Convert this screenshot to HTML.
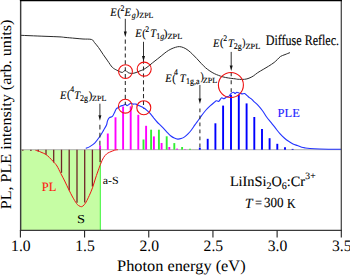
<!DOCTYPE html><html><head><meta charset="utf-8"><style>
html,body{margin:0;padding:0;background:#fff;width:350px;height:275px;overflow:hidden}
svg{display:block}
text{font-family:"Liberation Serif",serif;fill:#000;text-rendering:geometricPrecision}
.b{stroke:#000;stroke-width:0.12px;paint-order:stroke}
</style></head><body>
<svg width="350" height="275" viewBox="0 0 350 275">
<rect x="20.5" y="149.7" width="80.10" height="80.70" fill="#c6fda4"/>
<line x1="100.3" y1="149.7" x2="100.3" y2="230.4" stroke="#3cf53c" stroke-width="1"/>
<line x1="20.5" y1="149.7" x2="341.3" y2="149.7" stroke="#b0b0b0" stroke-width="1"/>
<line x1="22.8" y1="149.7" x2="22.8" y2="150.7" stroke="#6e2626" stroke-width="1.3"/>
<line x1="30.9" y1="149.7" x2="30.9" y2="151.1" stroke="#6e2626" stroke-width="1.3"/>
<line x1="38.3" y1="149.7" x2="38.3" y2="151.6" stroke="#6e2626" stroke-width="1.3"/>
<line x1="46.0" y1="149.7" x2="46.0" y2="154.7" stroke="#6e2626" stroke-width="1.3"/>
<line x1="53.7" y1="149.7" x2="53.7" y2="162.4" stroke="#6e2626" stroke-width="1.3"/>
<line x1="61.5" y1="149.7" x2="61.5" y2="172.8" stroke="#6e2626" stroke-width="1.3"/>
<line x1="69.2" y1="149.7" x2="69.2" y2="190.2" stroke="#6e2626" stroke-width="1.3"/>
<line x1="77.0" y1="149.7" x2="77.0" y2="202.7" stroke="#6e2626" stroke-width="1.3"/>
<line x1="84.7" y1="149.7" x2="84.7" y2="202.5" stroke="#6e2626" stroke-width="1.3"/>
<line x1="92.4" y1="149.7" x2="92.4" y2="186.5" stroke="#6e2626" stroke-width="1.3"/>
<line x1="100.1" y1="149.7" x2="100.1" y2="162.0" stroke="#6e2626" stroke-width="1.3"/>
<line x1="100.1" y1="149.7" x2="100.1" y2="145.5" stroke="#ff00ff" stroke-width="1.9"/>
<line x1="107.8" y1="149.7" x2="107.8" y2="133.5" stroke="#ff00ff" stroke-width="1.9"/>
<line x1="115.5" y1="149.7" x2="115.5" y2="117.3" stroke="#ff00ff" stroke-width="1.9"/>
<line x1="123.1" y1="149.7" x2="123.1" y2="106.5" stroke="#ff00ff" stroke-width="1.9"/>
<line x1="130.7" y1="149.7" x2="130.7" y2="106.3" stroke="#ff00ff" stroke-width="1.9"/>
<line x1="138.3" y1="149.7" x2="138.3" y2="114.8" stroke="#ff00ff" stroke-width="1.9"/>
<line x1="146.1" y1="149.7" x2="146.1" y2="125.8" stroke="#ff00ff" stroke-width="1.9"/>
<line x1="153.9" y1="149.7" x2="153.9" y2="136.4" stroke="#ff00ff" stroke-width="1.9"/>
<line x1="161.6" y1="149.7" x2="161.6" y2="143" stroke="#ff00ff" stroke-width="1.9"/>
<line x1="169.3" y1="149.7" x2="169.3" y2="147" stroke="#ff00ff" stroke-width="1.9"/>
<line x1="177.1" y1="149.7" x2="177.1" y2="148.6" stroke="#ff00ff" stroke-width="1.9"/>
<line x1="184.9" y1="149.7" x2="184.9" y2="149.2" stroke="#ff00ff" stroke-width="1.9"/>
<line x1="143.5" y1="149.7" x2="143.5" y2="139.5" stroke="#33ee33" stroke-width="1.9"/>
<line x1="151.1" y1="149.7" x2="151.1" y2="129.7" stroke="#33ee33" stroke-width="1.9"/>
<line x1="158.9" y1="149.7" x2="158.9" y2="129.7" stroke="#33ee33" stroke-width="1.9"/>
<line x1="166.7" y1="149.7" x2="166.7" y2="136.3" stroke="#33ee33" stroke-width="1.9"/>
<line x1="174.3" y1="149.7" x2="174.3" y2="143.1" stroke="#33ee33" stroke-width="1.9"/>
<line x1="182.1" y1="149.7" x2="182.1" y2="147.0" stroke="#33ee33" stroke-width="1.9"/>
<line x1="190" y1="149.7" x2="190" y2="148.8" stroke="#33ee33" stroke-width="1.9"/>
<line x1="199.8" y1="149.7" x2="199.8" y2="147.6" stroke="#0000ff" stroke-width="1.9"/>
<line x1="207.7" y1="149.7" x2="207.7" y2="138.8" stroke="#0000ff" stroke-width="1.9"/>
<line x1="215.4" y1="149.7" x2="215.4" y2="123.3" stroke="#0000ff" stroke-width="1.9"/>
<line x1="223.1" y1="149.7" x2="223.1" y2="105.6" stroke="#0000ff" stroke-width="1.9"/>
<line x1="231.0" y1="149.7" x2="231.0" y2="94.7" stroke="#0000ff" stroke-width="1.9"/>
<line x1="238.8" y1="149.7" x2="238.8" y2="94.7" stroke="#0000ff" stroke-width="1.9"/>
<line x1="246.6" y1="149.7" x2="246.6" y2="103.4" stroke="#0000ff" stroke-width="1.9"/>
<line x1="254.3" y1="149.7" x2="254.3" y2="117" stroke="#0000ff" stroke-width="1.9"/>
<line x1="262" y1="149.7" x2="262" y2="129" stroke="#0000ff" stroke-width="1.9"/>
<line x1="269.6" y1="149.7" x2="269.6" y2="138.2" stroke="#0000ff" stroke-width="1.9"/>
<line x1="277.3" y1="149.7" x2="277.3" y2="143.8" stroke="#0000ff" stroke-width="1.9"/>
<line x1="285" y1="149.7" x2="285" y2="147.3" stroke="#0000ff" stroke-width="1.9"/>
<line x1="292.6" y1="149.7" x2="292.6" y2="148.9" stroke="#0000ff" stroke-width="1.9"/>
<path d="M20.50,35.30 C22.08,35.37 25.92,35.53 30.00,35.70 C34.08,35.87 40.00,36.10 45.00,36.30 C50.00,36.50 56.67,36.72 60.00,36.90 C63.33,37.08 62.50,37.17 65.00,37.40 C67.50,37.63 72.00,38.03 75.00,38.30 C78.00,38.57 80.23,38.80 83.00,39.00 C85.77,39.20 89.68,38.90 91.60,39.50 C93.52,40.10 93.33,41.25 94.50,42.60 C95.67,43.95 97.15,45.62 98.60,47.60 C100.05,49.58 101.68,52.28 103.20,54.50 C104.72,56.72 106.18,58.77 107.70,60.90 C109.22,63.03 110.78,65.75 112.30,67.30 C113.82,68.85 115.58,69.48 116.80,70.20 C118.02,70.92 118.65,71.23 119.60,71.60 C120.55,71.97 121.55,72.62 122.50,72.40 C123.45,72.18 124.37,70.27 125.30,70.30 C126.23,70.33 127.08,72.08 128.10,72.60 C129.12,73.12 130.25,73.35 131.40,73.40 C132.55,73.45 133.57,73.32 135.00,72.90 C136.43,72.48 138.57,71.47 140.00,70.90 C141.43,70.33 142.23,70.25 143.60,69.50 C144.97,68.75 146.68,67.53 148.20,66.40 C149.72,65.27 151.18,63.92 152.70,62.70 C154.22,61.48 155.78,60.30 157.30,59.10 C158.82,57.90 160.28,56.72 161.80,55.50 C163.32,54.28 164.88,52.87 166.40,51.80 C167.92,50.73 169.38,49.85 170.90,49.10 C172.42,48.35 174.08,47.72 175.50,47.30 C176.92,46.88 178.03,46.53 179.40,46.60 C180.77,46.67 182.25,47.08 183.70,47.70 C185.15,48.32 186.63,49.22 188.10,50.30 C189.57,51.38 191.05,52.82 192.50,54.20 C193.95,55.58 195.35,57.07 196.80,58.60 C198.25,60.13 199.75,61.88 201.20,63.40 C202.65,64.92 204.05,66.43 205.50,67.70 C206.95,68.97 208.43,70.02 209.90,71.00 C211.37,71.98 212.85,72.87 214.30,73.60 C215.75,74.33 217.15,74.85 218.60,75.40 C220.05,75.95 221.35,76.47 223.00,76.90 C224.65,77.33 226.50,77.68 228.50,78.00 C230.50,78.32 233.40,78.58 235.00,78.80 C236.60,79.02 236.50,79.22 238.10,79.30 C239.70,79.38 242.78,79.48 244.60,79.30 C246.42,79.12 247.55,78.75 249.00,78.20 C250.45,77.65 251.85,76.92 253.30,76.00 C254.75,75.08 256.05,73.80 257.70,72.70 C259.35,71.60 261.38,70.48 263.20,69.40 C265.02,68.32 266.78,67.35 268.60,66.20 C270.42,65.05 272.65,63.60 274.10,62.50 C275.55,61.40 276.22,60.62 277.30,59.60 C278.38,58.58 279.32,57.23 280.60,56.40 C281.88,55.57 283.43,55.23 285.00,54.60 C286.57,53.97 289.17,52.93 290.00,52.60" fill="none" stroke="#2a2a2a" stroke-width="1.0"/>
<path d="M85.80,148.40 C86.47,148.10 88.32,147.48 89.80,146.60 C91.28,145.72 93.07,144.73 94.70,143.10 C96.33,141.47 98.13,138.92 99.60,136.80 C101.07,134.68 102.35,132.37 103.50,130.40 C104.65,128.43 105.83,126.58 106.50,125.00 C107.17,123.42 107.02,122.12 107.50,120.90 C107.98,119.68 108.58,118.45 109.40,117.70 C110.22,116.95 111.57,117.23 112.40,116.40 C113.23,115.57 113.75,113.97 114.40,112.70 C115.05,111.43 115.60,109.67 116.30,108.80 C117.00,107.93 117.85,107.97 118.60,107.50 C119.35,107.03 120.12,106.35 120.80,106.00 C121.48,105.65 122.07,105.62 122.70,105.40 C123.33,105.18 124.13,104.90 124.60,104.70 C125.07,104.50 125.08,104.02 125.50,104.20 C125.92,104.38 126.57,105.73 127.10,105.80 C127.63,105.87 128.02,105.02 128.70,104.60 C129.38,104.18 130.47,103.38 131.20,103.30 C131.93,103.22 132.32,103.97 133.10,104.10 C133.88,104.23 134.95,103.85 135.90,104.10 C136.85,104.35 137.55,105.00 138.80,105.60 C140.05,106.20 142.05,106.92 143.40,107.70 C144.75,108.48 145.75,109.30 146.90,110.30 C148.05,111.30 149.17,112.42 150.30,113.70 C151.43,114.98 152.57,116.62 153.70,118.00 C154.83,119.38 155.95,120.77 157.10,122.00 C158.25,123.23 159.45,124.27 160.60,125.40 C161.75,126.53 162.87,127.60 164.00,128.80 C165.13,130.00 166.25,131.40 167.40,132.60 C168.55,133.80 169.75,135.08 170.90,136.00 C172.05,136.92 173.17,137.58 174.30,138.10 C175.43,138.62 176.57,139.02 177.70,139.10 C178.83,139.18 179.95,138.97 181.10,138.60 C182.25,138.23 183.45,137.68 184.60,136.90 C185.75,136.12 186.87,135.05 188.00,133.90 C189.13,132.75 190.25,131.50 191.40,130.00 C192.55,128.50 193.75,126.53 194.90,124.90 C196.05,123.27 197.15,121.80 198.30,120.20 C199.45,118.60 200.52,117.00 201.80,115.30 C203.08,113.60 204.57,111.62 206.00,110.00 C207.43,108.38 208.97,106.92 210.40,105.60 C211.83,104.28 213.62,102.90 214.60,102.10 C215.58,101.30 215.58,100.93 216.30,100.80 C217.02,100.67 218.05,101.78 218.90,101.30 C219.75,100.82 220.55,98.33 221.40,97.90 C222.25,97.47 223.13,98.85 224.00,98.70 C224.87,98.55 225.75,97.43 226.60,97.00 C227.45,96.57 228.38,96.67 229.10,96.10 C229.82,95.53 230.18,94.25 230.90,93.60 C231.62,92.95 232.70,92.20 233.40,92.20 C234.10,92.20 234.52,93.60 235.10,93.60 C235.68,93.60 236.18,92.27 236.90,92.20 C237.62,92.13 238.55,92.92 239.40,93.20 C240.25,93.48 241.13,93.83 242.00,93.90 C242.87,93.97 243.75,93.32 244.60,93.60 C245.45,93.88 246.30,94.93 247.10,95.60 C247.90,96.27 248.68,97.05 249.40,97.60 C250.12,98.15 250.68,98.28 251.40,98.90 C252.12,99.52 252.58,100.23 253.70,101.30 C254.82,102.37 256.63,103.73 258.10,105.30 C259.57,106.87 261.05,108.70 262.50,110.70 C263.95,112.70 265.35,115.30 266.80,117.30 C268.25,119.30 269.75,120.88 271.20,122.70 C272.65,124.52 274.05,126.38 275.50,128.20 C276.95,130.02 278.43,131.97 279.90,133.60 C281.37,135.23 282.85,136.72 284.30,138.00 C285.75,139.28 287.15,140.32 288.60,141.30 C290.05,142.28 291.53,143.18 293.00,143.90 C294.47,144.62 295.95,145.05 297.40,145.60 C298.85,146.15 300.43,146.82 301.70,147.20 C302.97,147.58 303.62,147.68 305.00,147.90 C306.38,148.12 307.50,148.32 310.00,148.50 C312.50,148.68 316.67,148.88 320.00,149.00 C323.33,149.12 326.50,149.15 330.00,149.20 C333.50,149.25 339.17,149.28 341.00,149.30" fill="none" stroke="#2233ff" stroke-width="1.1"/>
<path d="M35.50,150.40 C35.92,150.48 37.08,150.60 38.00,150.90 C38.92,151.20 39.72,151.63 41.00,152.20 C42.28,152.77 44.28,153.40 45.70,154.30 C47.12,155.20 48.22,156.37 49.50,157.60 C50.78,158.83 52.15,160.30 53.40,161.70 C54.65,163.10 55.77,164.03 57.00,166.00 C58.23,167.97 59.52,171.00 60.80,173.50 C62.08,176.00 63.38,178.35 64.70,181.00 C66.02,183.65 67.38,186.73 68.70,189.40 C70.02,192.07 71.28,194.63 72.60,197.00 C73.92,199.37 75.53,202.13 76.60,203.60 C77.67,205.07 78.17,205.28 79.00,205.80 C79.83,206.32 80.77,206.83 81.60,206.70 C82.43,206.57 83.25,205.78 84.00,205.00 C84.75,204.22 85.22,203.58 86.10,202.00 C86.98,200.42 88.23,197.87 89.30,195.50 C90.37,193.13 91.45,190.72 92.50,187.80 C93.55,184.88 94.55,181.17 95.60,178.00 C96.65,174.83 97.90,171.30 98.80,168.80 C99.70,166.30 100.22,164.85 101.00,163.00 C101.78,161.15 102.58,159.20 103.50,157.70 C104.42,156.20 105.48,154.92 106.50,154.00 C107.52,153.08 108.23,152.83 109.60,152.20 C110.97,151.57 113.30,150.62 114.70,150.20 C116.10,149.78 117.45,149.78 118.00,149.70" fill="none" stroke="#f01414" stroke-width="1.0"/>
<line x1="125.3" y1="18.8" x2="125.3" y2="32.1" stroke="#333" stroke-width="1.0"/>
<path d="M123.8,31.6 L126.8,31.6 L125.3,37.2 Z" fill="#111"/>
<line x1="125.3" y1="39.6" x2="125.3" y2="105" stroke="#2a2a2a" stroke-width="1.05" stroke-dasharray="4.1,2.8"/>
<line x1="143.5" y1="41.8" x2="143.5" y2="56.4" stroke="#333" stroke-width="1.0"/>
<path d="M142.0,55.9 L145.0,55.9 L143.5,61.5 Z" fill="#111"/>
<line x1="143.5" y1="59.6" x2="143.5" y2="108.5" stroke="#2a2a2a" stroke-width="1.05" stroke-dasharray="4.1,2.8"/>
<line x1="231.2" y1="51.9" x2="231.2" y2="65.9" stroke="#333" stroke-width="1.0"/>
<path d="M229.7,65.4 L232.7,65.4 L231.2,71.0 Z" fill="#111"/>
<line x1="231.2" y1="72.3" x2="231.2" y2="93" stroke="#2a2a2a" stroke-width="1.05" stroke-dasharray="4.0,4.0"/>
<line x1="99.9" y1="103.7" x2="99.9" y2="115.7" stroke="#333" stroke-width="1.0"/>
<path d="M98.4,115.2 L101.4,115.2 L99.9,120.8 Z" fill="#111"/>
<line x1="99.9" y1="124.8" x2="99.9" y2="149.5" stroke="#2a2a2a" stroke-width="1.05" stroke-dasharray="4.8,3.2"/>
<line x1="199.9" y1="84.9" x2="199.9" y2="98.9" stroke="#333" stroke-width="1.0"/>
<path d="M198.4,98.4 L201.4,98.4 L199.9,104.0 Z" fill="#111"/>
<line x1="199.9" y1="108.4" x2="199.9" y2="149.5" stroke="#2a2a2a" stroke-width="1.05" stroke-dasharray="3.8,3.2"/>
<circle cx="125.5" cy="71.6" r="6.9" fill="none" stroke="#ee1111" stroke-width="1.1"/>
<circle cx="144.2" cy="69.1" r="7.0" fill="none" stroke="#ee1111" stroke-width="1.1"/>
<circle cx="230.9" cy="85" r="12.5" fill="none" stroke="#ee1111" stroke-width="1.1"/>
<circle cx="125.3" cy="106.2" r="6.9" fill="none" stroke="#ee1111" stroke-width="1.1"/>
<circle cx="143.8" cy="107.7" r="7.0" fill="none" stroke="#ee1111" stroke-width="1.1"/>
<line x1="20.65" y1="0" x2="20.65" y2="231.0" stroke="#3c3c3c" stroke-width="1.45"/>
<line x1="341.3" y1="0" x2="341.3" y2="231.0" stroke="#444" stroke-width="1.25"/>
<line x1="19.9" y1="230.4" x2="341.90000000000003" y2="230.4" stroke="#3a3a3a" stroke-width="1.3"/>
<line x1="19.9" y1="0.5" x2="341.90000000000003" y2="0.5" stroke="#000" stroke-width="1.3"/>
<g transform="translate(265.74,44.85) scale(0.9629,1.1718)"><text class="b" x="0" y="0" font-size="12.5">Diffuse Reflec.</text></g>
<g transform="translate(277.62,117.43) scale(0.9643,0.9474)"><text class="b" x="0" y="0" font-size="13" style="fill:#1e1eff;stroke:#1e1eff">PLE</text></g>
<g transform="translate(41.72,191.11) scale(0.9600,0.9789)"><text class="b" x="0" y="0" font-size="13" style="fill:#ff1111;stroke:#ff1111">PL</text></g>
<g transform="translate(102.72,184.38) scale(1.0017,0.9250)"><text x="0" y="0" font-size="12">a-S</text></g>
<g transform="translate(77.09,223.07) scale(1.2098,1.0125)"><text x="0" y="0" font-size="12">S</text></g>
<g transform="translate(117.09,271.03) scale(1.0207,0.9915)"><text x="0" y="0" font-size="16">Photon energy (eV)</text></g>
<g transform="translate(11.27,209.30) scale(0.9504,1.0072)"><text transform="rotate(-90)" x="0" y="0" font-size="16">PL, PLE intensity (arb. units)</text></g>
<g transform="translate(245.02,207.60) scale(1.0034,1.0479)"><text class="b" x="0" y="0" font-size="13.5" font-style="italic">T</text></g>
<g transform="translate(254.92,207.47) scale(0.9255,1.0074)"><text class="b" x="0" y="0" font-size="13.5">=</text></g>
<g transform="translate(263.90,207.47) scale(0.9673,1.0301)"><text class="b" x="0" y="0" font-size="13.5">300</text></g>
<g transform="translate(286.97,207.50) scale(0.8865,1.0254)"><text class="b" x="0" y="0" font-size="13.5">K</text></g>
<line x1="20.40" y1="230.4" x2="20.40" y2="237.6" stroke="#222" stroke-width="1.1"/>
<g transform="translate(11.06,251.35) scale(0.9778,0.9931)"><text x="0" y="0" font-size="16">1.0</text></g>
<line x1="84.58" y1="230.4" x2="84.58" y2="237.6" stroke="#222" stroke-width="1.1"/>
<g transform="translate(75.24,251.35) scale(0.9778,0.9931)"><text x="0" y="0" font-size="16">1.5</text></g>
<line x1="148.76" y1="230.4" x2="148.76" y2="237.6" stroke="#222" stroke-width="1.1"/>
<g transform="translate(139.42,251.35) scale(0.9778,0.9931)"><text x="0" y="0" font-size="16">2.0</text></g>
<line x1="212.94" y1="230.4" x2="212.94" y2="237.6" stroke="#222" stroke-width="1.1"/>
<g transform="translate(203.60,251.35) scale(0.9778,0.9931)"><text x="0" y="0" font-size="16">2.5</text></g>
<line x1="277.12" y1="230.4" x2="277.12" y2="237.6" stroke="#222" stroke-width="1.1"/>
<g transform="translate(267.78,251.35) scale(0.9778,0.9931)"><text x="0" y="0" font-size="16">3.0</text></g>
<line x1="341.30" y1="230.4" x2="341.30" y2="237.6" stroke="#222" stroke-width="1.1"/>
<g transform="translate(331.96,251.35) scale(0.9778,0.9931)"><text x="0" y="0" font-size="16">3.5</text></g>
<g transform="translate(110.2,16.3) scale(1.0,1.1)"><text class="b" x="0" y="0" font-size="10.5"><tspan font-style="italic">E</tspan><tspan font-size="10.5" y="-0.3" dx="0.6">(</tspan><tspan font-size="7.8" y="-4.9" dx="-0.2">2</tspan><tspan font-style="italic" y="0" dx="0.1">E</tspan><tspan font-size="8" y="1.9" dx="0.8"><tspan font-style="italic">g</tspan></tspan></text></g>
<g transform="translate(135.83,16.23) scale(0.9905,1.0105)"><text class="b" x="0" y="0" font-size="10.5">)</text></g>
<g transform="translate(139.32,18.40) scale(1.0057,0.9951)"><text class="b" x="0" y="0" font-size="7.85">ZPL</text></g>
<g transform="translate(135.3,37.1) scale(1.0,1.1)"><text class="b" x="0" y="0" font-size="10.5"><tspan font-style="italic">E</tspan><tspan font-size="10.5" y="-0.3" dx="0.6">(</tspan><tspan font-size="7.8" y="-4.9" dx="-0.45">2</tspan><tspan font-style="italic" y="0" dx="0.85">T</tspan><tspan font-size="8" y="1.9" dx="0.2"><tspan font-style="normal">1</tspan><tspan font-style="italic">g</tspan></tspan></text></g>
<g transform="translate(163.70,36.96) scale(1.0667,1.0421)"><text class="b" x="0" y="0" font-size="10.5">)</text></g>
<g transform="translate(167.50,39.30) scale(1.0590,0.9951)"><text class="b" x="0" y="0" font-size="7.85">ZPL</text></g>
<g transform="translate(212.9,46.8) scale(1.0,1.1)"><text class="b" x="0" y="0" font-size="10.5"><tspan font-style="italic">E</tspan><tspan font-size="10.5" y="-0.3" dx="0.6">(</tspan><tspan font-size="7.8" y="-4.9" dx="-0.2">2</tspan><tspan font-style="italic" y="0" dx="0.7999999999999999">T</tspan><tspan font-size="8" y="1.9" dx="0.0"><tspan font-style="normal">2</tspan><tspan font-style="normal">g</tspan></tspan></text></g>
<g transform="translate(242.16,45.96) scale(0.9143,1.0421)"><text class="b" x="0" y="0" font-size="10.5">)</text></g>
<g transform="translate(245.50,48.70) scale(1.0590,0.9951)"><text class="b" x="0" y="0" font-size="7.85">ZPL</text></g>
<g transform="translate(59.9,98.8) scale(1.0,1.1)"><text class="b" x="0" y="0" font-size="10.5"><tspan font-style="italic">E</tspan><tspan font-size="10.5" y="-0.3" dx="0.6">(</tspan><tspan font-size="7.8" y="-6.4" dx="-0.2">4</tspan><tspan font-style="italic" y="0" dx="0.1">T</tspan><tspan font-size="8" y="1.9" dx="0.0"><tspan font-style="normal">2</tspan><tspan font-style="normal">g</tspan></tspan></text></g>
<g transform="translate(88.71,98.66) scale(1.0286,1.0421)"><text class="b" x="0" y="0" font-size="10.5">)</text></g>
<g transform="translate(92.12,101.00) scale(1.0210,0.9951)"><text class="b" x="0" y="0" font-size="7.85">ZPL</text></g>
<g transform="translate(165.3,82.0) scale(1.0,1.1)"><text class="b" x="0" y="0" font-size="10.5"><tspan font-style="italic">E</tspan><tspan font-size="10.5" y="-0.3" dx="0.6">(</tspan><tspan font-size="7.8" y="-6.5" dx="-1.8">4</tspan><tspan font-style="italic" y="0" dx="1.7000000000000002">T</tspan><tspan font-size="8" y="1.9" dx="0.5"><tspan font-style="normal">1</tspan><tspan font-style="normal">g</tspan><tspan font-style="normal">,a</tspan></tspan></text></g>
<g transform="translate(200.46,80.33) scale(0.9143,1.0526)"><text class="b" x="0" y="0" font-size="10.5">)</text></g>
<g transform="translate(202.81,82.70) scale(1.0438,0.9951)"><text class="b" x="0" y="0" font-size="7.85">ZPL</text></g>
<text class="b" x="229.9" y="186.2" font-size="14.3">LiInSi<tspan font-size="10" dy="3">2</tspan><tspan dy="-3">O</tspan><tspan font-size="10" dy="3">6</tspan><tspan dy="-3">:Cr</tspan><tspan font-size="9.6" dy="-7.3" dx="0.3">3+</tspan></text>
</svg></body></html>
